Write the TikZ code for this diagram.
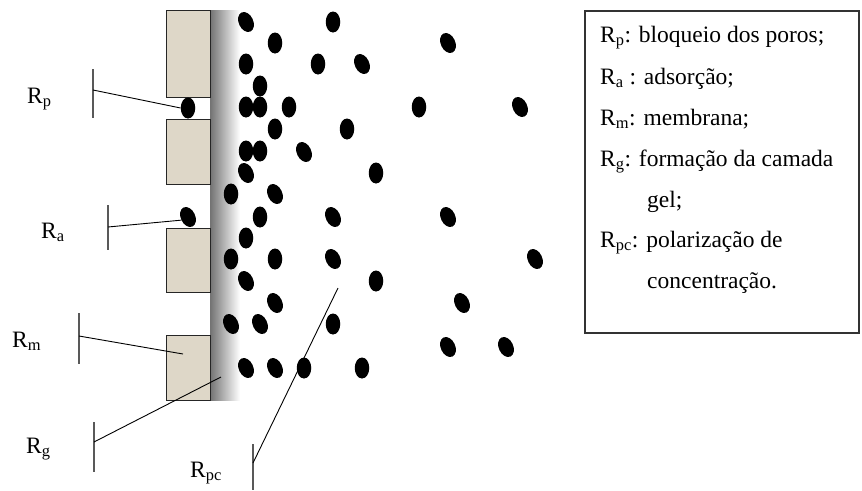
\documentclass[tikz,border=0pt]{standalone}
\usepackage{fontspec}
\setmainfont{Liberation Serif}
\usetikzlibrary{shapes.geometric}

\definecolor{sand}{RGB}{222,215,200}

\begin{document}
\begin{tikzpicture}[x=1pt, y=-1pt,
		block/.style={rectangle, draw=black!85, line width=1pt, fill=sand, minimum width=44, inner sep=0},
		grain/.style={ellipse, fill=black, minimum width=14.5, minimum height=21, inner sep=0},
		tilted/.style={grain, rotate=25},
		tick/.style={draw=black!65, line width=1.3pt},
		leader/.style={draw=black, line width=0.9pt},
		lbl/.style={anchor=base west, inner sep=0, font=\fontsize{23.5}{28}\selectfont}]
		\useasboundingbox (0,0) rectangle (862,490);

		% gel layer on the feed side
		\shade[left color=black!55, right color=white] (210,10) rectangle (240,400);

		% membrane with its pores
		\path
		(188,53.5) node [block, minimum height=87] (m1) {}
		(188,151.5) node [block, minimum height=65] (m2) {}
		(188,260) node [block, minimum height=64] (m3) {}
		(188,367.5) node [block, minimum height=65] (m4) {};

		% solute blocking a pore and adsorbed on the wall
		\path
		(188,108) node [grain] (pp) {}
		(188,217) node [tilted] (pa) {};

		% solute in the polarized layer
		\path
		(246,22) node [tilted] (g1) {}
		(333,22) node [grain] (g2) {}
		(275,43) node [grain] (g3) {}
		(448,43) node [tilted] (g4) {}
		(246,64) node [grain] (g5) {}
		(318,64) node [grain] (g6) {}
		(362,64) node [tilted] (g7) {}
		(260,86) node [grain] (g8) {}
		(246,107) node [grain] (g9) {}
		(260,107) node [grain] (g10) {}
		(289,107) node [grain] (g11) {}
		(419,107) node [grain] (g12) {}
		(520,107) node [tilted] (g13) {}
		(275,129) node [grain] (g14) {}
		(347,129) node [grain] (g15) {}
		(246,151) node [grain] (g16) {}
		(260,151) node [grain] (g17) {}
		(304,152) node [tilted] (g18) {}
		(246,173) node [tilted] (g19) {}
		(376,173) node [grain] (g20) {}
		(231,194) node [grain] (g21) {}
		(275,194) node [tilted] (g22) {}
		(260,217) node [grain] (g23) {}
		(333,217) node [tilted] (g24) {}
		(448,217) node [tilted] (g25) {}
		(246,238) node [grain] (g26) {}
		(231,259) node [grain] (g27) {}
		(275,259) node [grain] (g28) {}
		(333,259) node [tilted] (g29) {}
		(535,259) node [tilted] (g30) {}
		(246,281) node [tilted] (g31) {}
		(376,281) node [grain] (g32) {}
		(275,303) node [tilted] (g33) {}
		(462,303) node [tilted] (g34) {}
		(231,324) node [tilted] (g35) {}
		(260,324) node [tilted] (g36) {}
		(333,324) node [grain] (g37) {}
		(448,347) node [tilted] (g38) {}
		(506,347) node [tilted] (g39) {}
		(246,368) node [tilted] (g40) {}
		(275,368) node [tilted] (g41) {}
		(304,368) node [grain] (g42) {}
		(362,368) node [grain] (g43) {};

		% leader lines
		\coordinate (rp-t) at (93,69);
		\coordinate (rp-b) at (93,118);
		\coordinate (rp-m) at (93,90);
		\coordinate (ra-t) at (108,205);
		\coordinate (ra-b) at (108,250);
		\coordinate (ra-m) at (108,227);
		\coordinate (rm-t) at (79,313);
		\coordinate (rm-b) at (79,364);
		\coordinate (rm-m) at (79,336);
		\coordinate (rm-e) at (183,354);
		\coordinate (rg-t) at (94,422);
		\coordinate (rg-b) at (94,472);
		\coordinate (rg-m) at (94,442);
		\coordinate (rg-e) at (221,377);
		\coordinate (rpc-t) at (253,444);
		\coordinate (rpc-b) at (253,490);
		\coordinate (rpc-m) at (253,463);
		\coordinate (rpc-e) at (338,288);

		\draw[tick] (rp-t) -- (rp-b);
		\draw[tick] (ra-t) -- (ra-b);
		\draw[tick] (rm-t) -- (rm-b);
		\draw[tick] (rg-t) -- (rg-b);
		\draw[tick] (rpc-t) -- (rpc-b);
		\draw[leader] (rp-m) -- (pp.west);
		\draw[leader] (ra-m) -- (pa.west);
		\draw[leader] (rm-m) -- (rm-e);
		\draw[leader] (rg-m) -- (rg-e);
		\draw[leader] (rpc-m) -- (rpc-e);

		\path
		(27,103) node [lbl] (lp) {R\textsubscript{p}}
		(41,238) node [lbl] (la) {R\textsubscript{a}}
		(12,347) node [lbl] (lm) {R\textsubscript{m}}
		(26,453) node [lbl] (lg) {R\textsubscript{g}}
		(190,477) node [lbl] (lpc) {R\textsubscript{pc}};

		% key
		\draw[draw=black!80, line width=1.2pt] (585,11) rectangle (859,333);
		\path
		(600,42) node [lbl] (k1) {R\textsubscript{p}: bloqueio dos poros;}
		(600,84) node [lbl] (k2) {R\textsubscript{a} : adsorção;}
		(600,125) node [lbl] (k3) {R\textsubscript{m}: membrana;}
		(600,166) node [lbl] (k4) {R\textsubscript{g}: formação da camada}
		(647,207) node [lbl] (k5) {gel;}
		(600,247) node [lbl] (k6) {R\textsubscript{pc}: polarização de}
		(647,288) node [lbl] (k7) {concentração.};
	\end{tikzpicture}
\end{document}
